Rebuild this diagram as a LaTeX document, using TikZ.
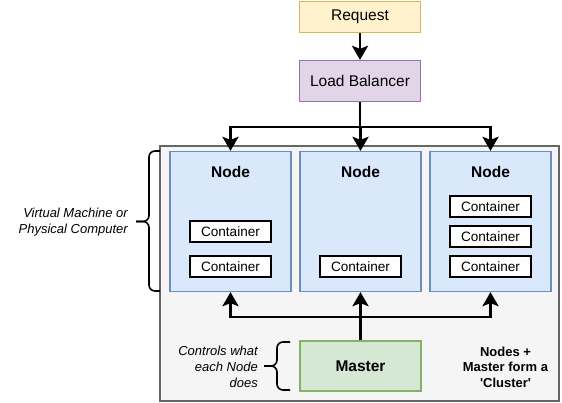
\documentclass[tikz,border=0pt]{standalone}
\usepackage{fontspec}
\setmainfont{Liberation Sans}[Ligatures=TeXOff]
\usetikzlibrary{arrows.meta}

\definecolor{reqfill}{HTML}{FFF2CC}
\definecolor{reqline}{HTML}{D6B656}
\definecolor{lbfill}{HTML}{E1D5E7}
\definecolor{lbline}{HTML}{9673A6}
\definecolor{nodefill}{HTML}{DAE8FC}
\definecolor{nodeline}{HTML}{6C8EBF}
\definecolor{masterfill}{HTML}{D5E8D4}
\definecolor{masterline}{HTML}{82B366}
\definecolor{clusterfill}{HTML}{F5F5F5}
\definecolor{clusterline}{HTML}{666666}

\tikzset{
  box/.style={draw, line width=1.3pt, inner sep=0pt, minimum width=121pt, font=\fontsize{15.5}{18}\selectfont},
  container/.style={draw=black, fill=white, line width=2pt, inner sep=0pt, minimum width=81pt, minimum height=21pt, font=\fontsize{13.6}{16}\selectfont},
  flow/.style={line width=2.8pt, -{Stealth[length=14pt, width=16pt, inset=3pt]}},
  curly/.style={line width=1.6pt, rounded corners=6pt},
  note/.style={align=right, inner sep=0pt, font=\fontsize{13}{16}\itshape\selectfont}
}

\begin{document}
\begin{tikzpicture}[x=1pt, y=-1pt]
\useasboundingbox (0,0) rectangle (562,402);

\def\nodeh{140pt}

% cluster background
\node[draw=clusterline, fill=clusterfill, line width=1.3pt, minimum width=399pt, minimum height=255pt, inner sep=0pt] (cluster) at (359.5,273.5) {};

\node[box, draw=reqline, fill=reqfill, minimum height=31pt] (request) at (360,17) {Request};
\node[box, draw=lbline, fill=lbfill, minimum height=41pt] (balancer) at (360,81) {Load Balancer};

\node[box, draw=nodeline, fill=nodefill, minimum height=\nodeh] (node-1) at (230.5,221.5) {};
\node[box, draw=nodeline, fill=nodefill, minimum height=\nodeh] (node-2) at (360.5,221.5) {};
\node[box, draw=nodeline, fill=nodefill, minimum height=\nodeh] (node-3) at (490.5,221.5) {};

\node[font=\fontsize{15.5}{18}\bfseries\selectfont, inner sep=0pt] (node-1-title) at ([yshift=-21pt]node-1.north) {Node};
\node[font=\fontsize{15.5}{18}\bfseries\selectfont, inner sep=0pt] (node-2-title) at ([yshift=-21pt]node-2.north) {Node};
\node[font=\fontsize{15.5}{18}\bfseries\selectfont, inner sep=0pt] (node-3-title) at ([yshift=-21pt]node-3.north) {Node};

\node[container] (cont-1a) at (230.5,231.5) {Container};
\node[container] (cont-1b) at (230.5,266.5) {Container};
\node[container] (cont-2a) at (360.5,266.5) {Container};
\node[container] (cont-3a) at (490.5,206.5) {Container};
\node[container] (cont-3b) at (490.5,236.5) {Container};
\node[container] (cont-3c) at (490.5,266.5) {Container};

\node[box, draw=masterline, fill=masterfill, minimum height=50pt, font=\fontsize{15.5}{18}\bfseries\selectfont] (master) at (360.5,366) {Master};

% connectors
\coordinate (split-top) at (360,127);
\coordinate (split-bottom) at (360.5,317);

\draw[line width=2.8pt] (balancer.south) -- (split-top);
\draw[flow] (request.south) -- (balancer.north);
\draw[flow] (split-top) -| (node-1.north);
\draw[flow] (split-top) -- (split-top -| node-2.north) -- (node-2.north);
\draw[flow] (split-top) -| (node-3.north);

\draw[flow] (master.north) -- (node-2.south);
\draw[flow] (split-bottom) -| (node-1.south);
\draw[flow] (split-bottom) -| (node-3.south);

% braces and notes
\draw[curly] (160,151) -- (149,151) -- (149,221.5) -- (136,221.5);
\draw[curly] (136,221.5) -- (149,221.5) -- (149,291) -- (160,291);
\node[note, anchor=east] (vm-label) at (128,222) {Virtual Machine or\\Physical Computer};

\draw[curly] (290,342) -- (277,342) -- (277,366) -- (264,366);
\draw[curly] (264,366) -- (277,366) -- (277,390) -- (290,390);
\node[note, anchor=east] (master-label) at (258,367) {Controls what\\each Node\\does};

\node[align=center, inner sep=0pt, font=\fontsize{13}{15.5}\bfseries\selectfont] (cluster-label) at (505.5,367) {Nodes +\\Master form a\\'Cluster'};

\end{tikzpicture}
\end{document}
